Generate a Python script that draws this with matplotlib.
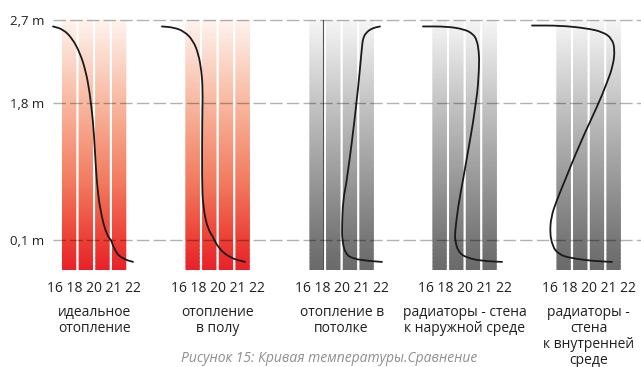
import numpy as np
import matplotlib.pyplot as plt
from matplotlib.colors import LinearSegmentedColormap
from matplotlib.transforms import blended_transform_factory
from matplotlib.path import Path
from matplotlib.patches import PathPatch

plt.rcParams['font.family'] = ['Open Sans', 'DejaVu Sans']

# data
levels = [0.1, 1.8, 2.7]
level_labels = ['0,1 m', '1,8 m', '2,7 m']
temp_labels = '16 18 20 21 22'
titles = ['идеальное\nотопление', 'отопление\nв полу', 'отопление в\nпотолке',
          'радиаторы - стена\nк наружной среде', 'радиаторы -\nстена\nк внутренней\nсреде']
caption = 'Рисунок 15: Кривая температуры.Сравнение'
palettes = ['red', 'red', 'gray', 'gray', 'gray']

ideal_t = [15.85, 16.60, 17.30, 17.88, 18.30, 18.60, 18.85, 19.00, 19.12, 19.38, 19.90, 20.50, 21.10, 21.85]
ideal_h = [2.63, 2.60, 2.50, 2.34, 2.15, 1.92, 1.59, 1.20, 0.84, 0.47, 0.14, 0.06, 0.037, 0.027]

floor_t = [14.76, 15.60, 16.40, 17.09, 17.50, 17.72, 17.82, 17.78, 17.76, 17.84, 18.21, 18.89, 19.86, 20.99]
floor_h = [2.63, 2.62, 2.58, 2.48, 2.33, 2.15, 1.95, 1.63, 0.84, 0.51, 0.22, 0.077, 0.04, 0.027]

ceiling_t = [21.81, 21.20, 20.75, 20.54, 20.46, 20.09, 19.34, 19.04, 18.96, 18.98, 19.20, 19.79, 21.06, 21.96]
ceiling_h = [2.63, 2.61, 2.56, 2.50, 2.41, 1.83, 0.84, 0.60, 0.25, 0.10, 0.055, 0.037, 0.03, 0.027]

rad_out_t = [15.81, 17.60, 18.90, 19.56, 19.86, 20.01, 20.03, 19.86, 18.81, 18.44, 18.21, 18.22, 18.45, 19.11, 20.31, 21.74]
rad_out_h = [2.63, 2.63, 2.60, 2.55, 2.48, 2.35, 2.20, 1.83, 0.84, 0.51, 0.19, 0.10, 0.06, 0.04, 0.03, 0.027]

rad_in_t = [14.69, 16.80, 18.81, 20.01, 20.68, 20.91, 20.76, 20.31, 19.56, 18.29, 17.16, 16.56, 16.10, 16.04, 16.20, 16.70,
            17.54, 19.26, 20.69]
rad_in_h = [2.64, 2.64, 2.61, 2.57, 2.50, 2.38, 2.20, 2.02, 1.75, 1.30, 0.84, 0.60, 0.38, 0.16, 0.08, 0.052,
            0.04, 0.03, 0.027]

curves = [(ideal_t, ideal_h), (floor_t, floor_h), (ceiling_t, ceiling_h),
          (rad_out_t, rad_out_h), (rad_in_t, rad_in_h)]

# height axis of the picture is not linear: piecewise scale
h_knots = [-1.0, 0.0, 0.1, 1.8, 2.7, 4.0]
v_knots = [-300.0, 0.0, 30.0, 167.0, 250.0, 370.0]


def fwd(h):
    return np.interp(h, h_knots, v_knots)


def inv(v):
    return np.interp(v, v_knots, h_knots)


def smooth_path(xs, ys):
    # quadratic bezier through midpoints, drawn by the Path machinery
    pts = np.column_stack([xs, ys])
    verts = [pts[0], (pts[0] + pts[1]) / 2]
    codes = [Path.MOVETO, Path.LINETO]
    for j in range(1, len(pts) - 1):
        verts += [pts[j], (pts[j] + pts[j + 1]) / 2]
        codes += [Path.CURVE3, Path.CURVE3]
    verts.append(pts[-1])
    codes.append(Path.LINETO)
    return Path(verts, codes)


cmaps = {
    'red': LinearSegmentedColormap.from_list('r', [(0, '#e8212a'), (0.12, '#ec3f35'), (0.35, '#f27a5e'),
                                                   (0.67, '#f8b8a0'), (1, '#fef3ee')]),
    'gray': LinearSegmentedColormap.from_list('g', [(0, '#6a6a6a'), (0.12, '#777777'), (0.67, '#c4c4c4'),
                                                    (1, '#f5f5f5')]),
}

W, H = 641, 367
fig = plt.figure(figsize=(W / 100, H / 100), dpi=100)

px_per_deg = 13.33
panel_x16 = [55, 178.5, 302.5, 425.5, 549.5]
y_bot, y_top = 270, 20
ax_b = (H - y_bot) / H
ax_h = (y_bot - y_top) / H

bar_left0 = 16.56
bar_step = 1.25
bar_w = 1.0

ys = np.linspace(0, 2.7, 200)
frac = fwd(ys) / 250.0

for i in range(5):
    left = panel_x16[i] - 2 * px_per_deg
    ax = fig.add_axes([left / W, ax_b, 9 * px_per_deg / W, ax_h])
    ax.set_yscale('function', functions=(fwd, inv))
    ax.set_xlim(14, 23)
    ax.set_ylim(0, 2.7)
    ax.axis('off')
    ax.patch.set_alpha(0)
    for k in range(4):
        x0 = bar_left0 + k * bar_step
        X, Y = np.meshgrid([x0, x0 + bar_w], ys)
        C = np.repeat(frac[:, None], 2, axis=1)
        ax.pcolormesh(X, Y, C, cmap=cmaps[palettes[i]], shading='gouraud', vmin=0, vmax=1)
    if i == 2:
        ax.axvline(bar_left0 + bar_w, color='#555555', lw=0.8)
    t, h = curves[i]
    ax.add_patch(PathPatch(smooth_path(t, h), facecolor='none', edgecolor='#1a1a1a', lw=1.3,
                           capstyle='round', joinstyle='round', clip_on=False))

    mid = bar_left0 + (3 * bar_step + bar_w) / 2
    tr = blended_transform_factory(ax.transData, fig.transFigure)
    ax.text(mid, 1 - 289 / H, temp_labels, transform=tr, ha='center', va='center',
            fontsize=10, color='#231f20')
    ax.text(mid, 1 - 305 / H, titles[i], transform=tr, ha='center', va='top',
            fontsize=10, color='#231f20', linespacing=1.1)

# overlay with dashed levels
ov = fig.add_axes([53 / W, ax_b, 1 - 53 / W, ax_h])
ov.set_yscale('function', functions=(fwd, inv))
ov.set_ylim(0, 2.7)
ov.set_xlim(0, 1)
ov.patch.set_alpha(0)
for s in ov.spines.values():
    s.set_visible(False)
ov.set_xticks([])
ov.set_yticks(levels, level_labels)
ov.tick_params(axis='y', length=0, pad=6, labelsize=9.5, labelcolor='#231f20')
for lv in levels:
    ov.axhline(lv, color='black', alpha=0.3, lw=1.0, dashes=(9, 3), clip_on=False)

fig.text(329 / W, 1 - 359 / H, caption, ha='center', va='center', style='italic',
         fontsize=10, color='#8f8f8f')

fig.savefig('out.png', dpi=100)
